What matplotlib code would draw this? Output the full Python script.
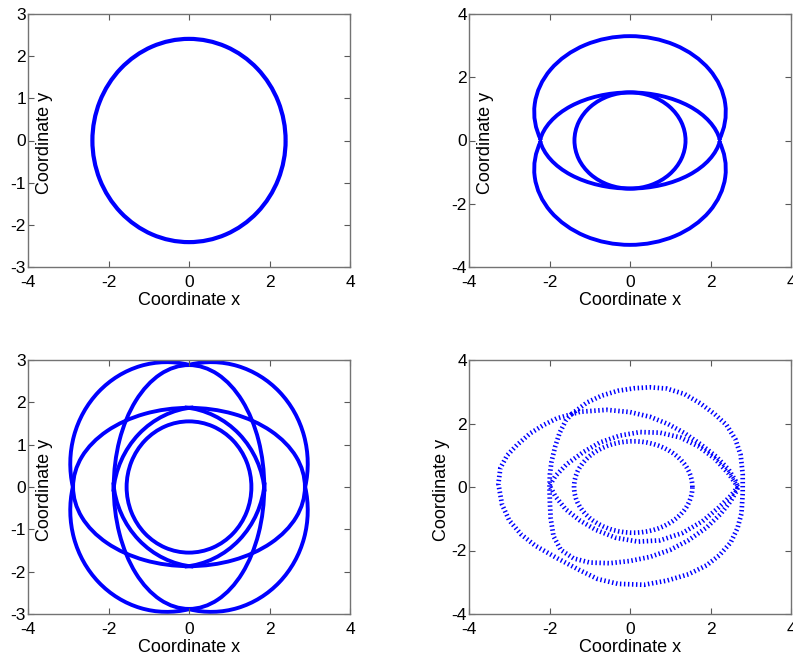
import numpy as np
import matplotlib
matplotlib.use('Agg')
import matplotlib.pyplot as plt
from matplotlib.patches import Arc

plt.rcParams['font.family'] = ['Liberation Sans', 'DejaVu Sans']
plt.rcParams['axes.unicode_minus'] = False

BLUE = '#0000ff'

# ---------------- data ----------------
# Panel 1: a single circular orbit
p1_cx = [0.0]
p1_cy = [0.0]
p1_w = [4.8]
p1_h = [4.82]
p1_t1 = [0.0]
p1_t2 = [360.0]

# Panel 2: outer arcs, lens arcs, inner ellipse
p2_cx = [0.0, 0.0, 0.0, 0.0, 0.0]
p2_cy = [0.9, -0.9, -0.3, 0.3, 0.0]
p2_w = [4.76, 4.76, 4.54, 4.54, 2.76]
p2_h = [4.80, 4.80, 3.64, 3.64, 3.04]
p2_t1 = [-22.0, 158.0, 7.6, 187.6, 0.0]
p2_t2 = [202.0, 382.0, 172.4, 352.4, 360.0]

# Panel 3: four outer arcs, four inner arcs, H / V ellipses, inner circle
p3_cx = [0.55, -0.55, -0.55, 0.55, -0.3, 0.3, 0.3, -0.3, 0.0, 0.0, 0.0]
p3_cy = [0.55, 0.55, -0.55, -0.55, -0.3, -0.3, 0.3, 0.3, 0.0, 0.0, 0.0]
p3_w = [4.8, 4.8, 4.8, 4.8, 4.38, 4.38, 4.38, 4.38, 5.76, 3.74, 3.1]
p3_h = [4.8, 4.8, 4.8, 4.8, 4.38, 4.38, 4.38, 4.38, 3.74, 5.76, 3.1]
p3_t1 = [-13.25, 76.75, 166.75, 256.75, 5.0, 95.0, 185.0, 275.0, 0.0, 0.0, 0.0]
p3_t2 = [103.25, 193.25, 283.25, 373.25, 85.0, 175.0, 265.0, 355.0, 360.0, 360.0, 360.0]

# Panel 4: traced trajectory pieces
p4_outer_x = [-1.45, -1.07, -0.70, -0.30, 0.10, 0.50, 0.91, 1.35, 1.74, 2.10, 2.40, 2.62,
              2.75, 2.80, 2.80, 2.77, 2.67, 2.50, 2.22, 1.90, 1.45, 0.91, 0.35, -0.30,
              -0.80, -1.25, -1.80, -2.35, -2.70, -3.00, -3.18, -3.27, -3.22, -3.05, -2.81,
              -2.48, -2.15, -1.82, -1.24, -0.58, 0.00, 0.50, 0.95, 1.35, 1.75, 2.15, 2.45,
              2.62, 2.68]
p4_outer_y = [2.30, 2.66, 2.88, 3.03, 3.11, 3.14, 3.10, 2.93, 2.64, 2.30, 1.95, 1.50,
              1.00, 0.40, -0.20, -0.83, -1.30, -1.75, -2.15, -2.47, -2.75, -2.95, -3.08, -3.05,
              -2.90, -2.62, -2.25, -1.85, -1.50, -1.05, -0.55, 0.10, 0.60, 1.00, 1.32,
              1.69, 1.95, 2.16, 2.37, 2.43, 2.36, 2.21, 1.98, 1.70, 1.35, 0.95, 0.55,
              0.20, 0.00]
p4_mid_x = [-1.45, -1.60, -1.75, -1.86, -1.95, -1.99, -2.00, -1.99, -1.97, -1.90, -1.72,
            -1.40, -1.00, -0.50, 0.00, 0.50, 1.00, 1.45, 1.90, 2.25, 2.50, 2.65, 2.68]
p4_mid_y = [2.30, 2.08, 1.70, 1.27, 0.80, 0.40, 0.00, -0.50, -1.00, -1.55, -1.98,
            -2.25, -2.38, -2.40, -2.33, -2.20, -1.98, -1.68, -1.28, -0.85, -0.45, -0.12, 0.00]
p4_lens_x = [2.68, 2.45, 2.10, 1.70, 1.25, 0.75, 0.25, -0.25, -0.75, -1.16, -1.57, -1.85,
             -2.00, -1.85, -1.60, -1.25, -0.85, -0.35, 0.20, 0.75, 1.30, 1.80, 2.20, 2.50, 2.68]
p4_lens_y = [0.00, 0.42, 0.90, 1.28, 1.56, 1.71, 1.73, 1.62, 1.40, 1.10, 0.72, 0.35,
             0.05, -0.30, -0.70, -1.05, -1.35, -1.60, -1.72, -1.68, -1.45, -1.08, -0.65, -0.28, 0.00]
p4_inner_cx = [0.08]
p4_inner_cy = [0.0]
p4_inner_w = [2.94]
p4_inner_h = [2.88]

# axes settings
x_ticks = [-4, -2, 0, 2, 4]
y_ticks_a = [-3, -2, -1, 0, 1, 2, 3]
y_ticks_b = [-4, -2, 0, 2, 4]
xlabel = 'Coordinate x'
ylabel = 'Coordinate y'

# ---------------- figure ----------------
fig = plt.figure(figsize=(7.93, 6.60), dpi=100)
W, H = 793.0, 660.0


def make_ax(left, top, right, bottom):
    return fig.add_axes([left / W, 1 - bottom / H, (right - left) / W, (bottom - top) / H])


ax1 = make_ax(28, 14, 350, 267)
ax2 = make_ax(469, 14, 791, 267)
ax3 = make_ax(28, 360, 350, 614)
ax4 = make_ax(469, 360, 791, 614)


def style(ax, yticks, ylab_x):
    ax.set_xlim(-4, 4)
    ax.set_ylim(yticks[0], yticks[-1])
    ax.set_xticks(x_ticks)
    ax.set_yticks(yticks)
    ax.set_xticklabels([str(v) for v in x_ticks])
    ax.set_yticklabels([str(v) for v in yticks])
    ax.tick_params(direction='in', top=True, right=True, length=4, width=0.8,
                   color='0.35', labelsize=12.5, labelcolor='black')
    ax.tick_params(axis='y', pad=1.5)
    ax.tick_params(axis='x', pad=5.5)
    for s in ax.spines.values():
        s.set_color('0.45')
        s.set_linewidth(1.0)
    ax.set_xlabel(xlabel, fontsize=13)
    ax.set_ylabel(ylabel, fontsize=13)
    ax.xaxis.set_label_coords(0.5, -0.10)
    ax.yaxis.set_label_coords(ylab_x, 0.49)


def draw_arcs(ax, cx, cy, w, h, t1, t2, lw, **kw):
    for i in range(len(cx)):
        ax.add_patch(Arc((cx[i], cy[i]), w[i], h[i], theta1=t1[i], theta2=t2[i],
                         edgecolor=BLUE, linewidth=lw, **kw))


draw_arcs(ax1, p1_cx, p1_cy, p1_w, p1_h, p1_t1, p1_t2, 3.0)
draw_arcs(ax2, p2_cx, p2_cy, p2_w, p2_h, p2_t1, p2_t2, 2.8)
draw_arcs(ax3, p3_cx, p3_cy, p3_w, p3_h, p3_t1, p3_t2, 2.8)

dash = (0, (0.3, 0.55))
for xs, ys in [(p4_outer_x, p4_outer_y), (p4_mid_x, p4_mid_y), (p4_lens_x, p4_lens_y)]:
    ax4.plot(xs, ys, color=BLUE, linewidth=3.4, linestyle=dash, dash_capstyle='butt')
for i in range(len(p4_inner_cx)):
    ax4.add_patch(Arc((p4_inner_cx[i], p4_inner_cy[i]), p4_inner_w[i], p4_inner_h[i],
                      theta1=0, theta2=360, edgecolor=BLUE, linewidth=3.4, linestyle=dash))

style(ax1, y_ticks_a, 0.078)
style(ax2, y_ticks_b, 0.078)
style(ax3, y_ticks_a, 0.078)
style(ax4, y_ticks_b, -0.059)

fig.savefig('out.png', dpi=100)
